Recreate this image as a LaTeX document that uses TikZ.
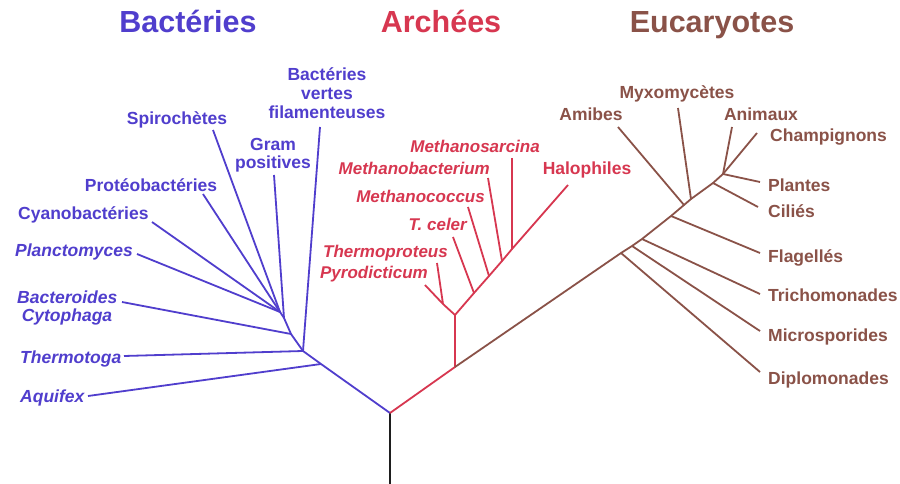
\documentclass[tikz,border=0pt]{standalone}
\usepackage{fontspec}
\setmainfont{Liberation Sans}
\definecolor{bact}{RGB}{80,62,205}
\definecolor{arch}{RGB}{215,55,80}
\definecolor{euk}{RGB}{138,82,72}
\definecolor{rootc}{RGB}{30,30,30}
\begin{document}
\begin{tikzpicture}[x=1pt,y=-1pt,
  title/.style={font=\fontsize{30.5}{34}\selectfont\bfseries, inner sep=0pt, anchor=base},
  lab/.style={font=\fontsize{17.5}{20}\selectfont\bfseries, inner sep=0pt},
  ilab/.style={font=\fontsize{17.5}{20}\selectfont\bfseries\itshape, inner sep=0pt},
  alab/.style={font=\fontsize{17}{20}\selectfont\bfseries\itshape, inner sep=0pt, text=arch, anchor=base east},
  bline/.style={draw=bact, line width=1.8pt, line join=round},
  aline/.style={draw=arch, line width=1.8pt, line join=round},
  eline/.style={draw=euk, line width=1.8pt, line join=round}]
\useasboundingbox (0,0) rectangle (900,484);
\fill[white] (0,0) rectangle (900,484);
% titles
\node[title, text=bact] (tB) at (188,33) {Bactéries};
\node[title, text=arch] (tA) at (441,33) {Archées};
\node[title, text=euk] (tE) at (712,33) {Eucaryotes};
% root
\coordinate (R) at (390,413);
\coordinate (R0) at (390,484);
\draw[draw=rootc, line width=1.8pt] (R0) -- (R);
% ---------------- bacteria
\coordinate (jA) at (321,364);
\coordinate (jT) at (303,351);
\coordinate (jBc) at (291,334);
\coordinate (jG) at (284,318);
\coordinate (jTop) at (280,312);
\coordinate (eAq) at (88,396);
\coordinate (eTh) at (124,356);
\coordinate (eVe) at (320,127);
\coordinate (eBc) at (122,302);
\coordinate (eGr) at (274,175);
\coordinate (eSp) at (213,130);
\coordinate (ePr) at (203,194);
\coordinate (eCy) at (152,222);
\coordinate (ePl) at (137,254);
\draw[bline] (R) -- (jA) -- (jT) -- (jBc) -- (jG) -- (jTop);
\draw[bline] (eAq) -- (jA);
\draw[bline] (eTh) -- (jT);
\draw[bline] (eVe) -- (jT);
\draw[bline] (eBc) -- (jBc);
\draw[bline] (eGr) -- (jG);
\draw[bline] (eSp) -- (jTop);
\draw[bline] (ePr) -- (jTop);
\draw[bline] (eCy) -- (jTop);
\draw[bline] (ePl) -- (jTop);
\node[lab, text=bact, anchor=base] (lVe1) at (327,81) {Bactéries};
\node[lab, text=bact, anchor=base] (lVe2) at (327,100) {vertes};
\node[lab, text=bact, anchor=base] (lVe3) at (327,119) {filamenteuses};
\node[lab, text=bact, anchor=base] (lGr1) at (273,150) {Gram};
\node[lab, text=bact, anchor=base] (lGr2) at (273,169) {positives};
\node[lab, text=bact, anchor=base] (lSp) at (177,125) {Spirochètes};
\node[lab, text=bact, anchor=base] (lPr) at (151,191) {Protéobactéries};
\node[lab, text=bact, anchor=base west] (lCy) at (18,219) {Cyanobactéries};
\node[ilab, text=bact, anchor=base west] (lPl) at (15,256) {Planctomyces};
\node[ilab, text=bact, anchor=base west] (lBc) at (17,303) {Bacteroides};
\node[ilab, text=bact, anchor=base] (lCt) at (67,321) {Cytophaga};
\node[ilab, text=bact, anchor=base west] (lTh) at (20,363) {Thermotoga};
\node[ilab, text=bact, anchor=base west] (lAq) at (20,402) {Aquifex};
% ---------------- archaea
\coordinate (jAr) at (455,367);
\coordinate (jAr2) at (455,315);
\coordinate (jPT) at (443,304);
\coordinate (ePy) at (425,285);
\coordinate (eTp) at (437,263);
\coordinate (jTc) at (474,293);
\coordinate (jMc) at (489,276);
\coordinate (jMb) at (502,261);
\coordinate (jMs) at (512,249);
\coordinate (eHa) at (568,185);
\coordinate (eTc) at (453,237);
\coordinate (eMc) at (468,207);
\coordinate (eMb) at (488,178);
\coordinate (eMs) at (512,158);
\draw[aline] (R) -- (jAr) -- (jAr2) -- (jPT);
\draw[aline] (jAr2) -- (jTc) -- (jMc) -- (jMb) -- (jMs) -- (eHa);
\draw[aline] (ePy) -- (jPT) -- (eTp);
\draw[aline] (eTc) -- (jTc);
\draw[aline] (eMc) -- (jMc);
\draw[aline] (eMb) -- (jMb);
\draw[aline] (eMs) -- (jMs);
\node[alab] (lMs) at (540,153) {Methanosarcina};
\node[alab] (lMb) at (490,175) {Methanobacterium};
\node[alab] (lMc) at (485,202) {Methanococcus};
\node[alab] (lTc) at (467,230) {T. celer};
\node[alab] (lTp) at (448,257) {Thermoproteus};
\node[alab] (lPy) at (428,278) {Pyrodicticum};
\node[lab, text=arch, anchor=base] (lHa) at (587,175) {Halophiles};
% ---------------- eukaryotes
\coordinate (jDi) at (621,253);
\coordinate (jMi) at (632,246);
\coordinate (jTr) at (642,239);
\coordinate (jFl) at (671,216);
\coordinate (jAm) at (684,205);
\coordinate (jMy) at (691,199);
\coordinate (jCi) at (713,183);
\coordinate (jCr) at (723,174);
\coordinate (eDi) at (760,372);
\coordinate (eMi) at (760,331);
\coordinate (eTr) at (760,294);
\coordinate (eFl) at (760,253);
\coordinate (eAm) at (618,127);
\coordinate (eMy) at (678,108);
\coordinate (eCi) at (758,207);
\coordinate (eAn) at (732,127);
\coordinate (eCh) at (757,133);
\coordinate (ePa) at (760,182);
\draw[eline] (jAr) -- (jDi) -- (jMi) -- (jTr) -- (jFl) -- (jAm) -- (jMy) -- (jCi) -- (jCr);
\draw[eline] (eDi) -- (jDi);
\draw[eline] (eMi) -- (jMi);
\draw[eline] (eTr) -- (jTr);
\draw[eline] (eFl) -- (jFl);
\draw[eline] (eAm) -- (jAm);
\draw[eline] (eMy) -- (jMy);
\draw[eline] (eCi) -- (jCi);
\draw[eline] (eAn) -- (jCr);
\draw[eline] (eCh) -- (jCr);
\draw[eline] (ePa) -- (jCr);
\node[lab, text=euk, anchor=base] (lAm) at (591,121) {Amibes};
\node[lab, text=euk, anchor=base] (lMy) at (677,99) {Myxomycètes};
\node[lab, text=euk, anchor=base] (lAn) at (761,121) {Animaux};
\node[lab, text=euk, anchor=base west] (lCh) at (770,142) {Champignons};
\node[lab, text=euk, anchor=base west] (lPa) at (768,191) {Plantes};
\node[lab, text=euk, anchor=base west] (lCi) at (768,218) {Ciliés};
\node[lab, text=euk, anchor=base west] (lFl) at (768,262) {Flagellés};
\node[lab, text=euk, anchor=base west] (lTr) at (768,301) {Trichomonades};
\node[lab, text=euk, anchor=base west] (lMi) at (768,341) {Microsporides};
\node[lab, text=euk, anchor=base west] (lDi) at (768,384) {Diplomonades};
\end{tikzpicture}
\end{document}
